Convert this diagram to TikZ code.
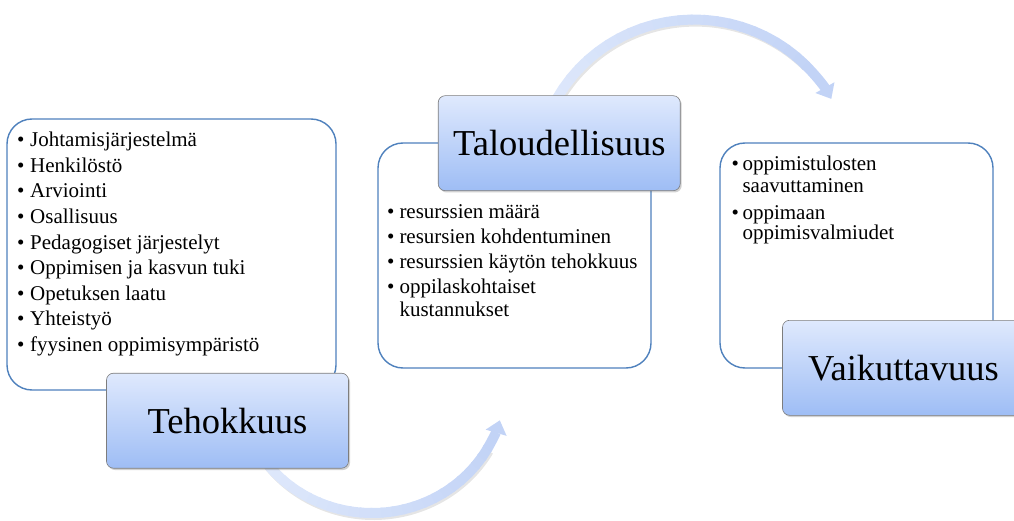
\documentclass[tikz,border=0pt]{standalone}
\usepackage{fontspec}
\setmainfont{Liberation Serif}
\usetikzlibrary{arrows.meta,shadows,calc}
\definecolor{boxblue}{RGB}{79,129,189}
\definecolor{ttop}{RGB}{223,233,253}
\definecolor{tbot}{RGB}{158,189,245}
\definecolor{tborder}{RGB}{125,125,125}
\definecolor{arrA}{RGB}{222,232,251}
\definecolor{arrB}{RGB}{194,211,246}
\begin{document}
\begin{tikzpicture}[x=1pt,y=1pt,
  wbox/.style={draw=boxblue, line width=1.4pt, rounded corners=25pt, fill=white, inner sep=0},
  tbox/.style={draw=tborder, line width=0.6pt, rounded corners=7pt, top color=ttop, bottom color=tbot,
    minimum width=242, minimum height=95, inner sep=0, font=\fontsize{36.5}{40}\selectfont,
    drop shadow={shadow xshift=1.5pt, shadow yshift=-1.8pt, opacity=0.3, fill=black!60}},
  item/.style={anchor=base west, inner sep=0, font=\fontsize{21}{25}\selectfont},
  arrshadow/.style={line width=10pt, draw=black, opacity=0.10},
]
\path[use as bounding box] (0,0) rectangle (1014,520);
\clip (0,0) rectangle (1014,520);

% ---- curved arrows ----
\coordinate (c1) at (372,135);
\coordinate (c2) at (694,346.4);
% bottom arrow (Tehokkuus -> Taloudellisuus)
\draw[arrshadow] ($(c1)+(218:133 and 128)+(1.5,-2)$) arc[start angle=218, end angle=330, x radius=133, y radius=128];
\foreach \i in {0,...,23} {
  \pgfmathsetmacro\a{218+112*\i/24}
  \pgfmathsetmacro\b{218+112*(\i+1)/24+0.8}
  \pgfmathtruncatemacro\m{100*\i/24}
  \draw[line width=10pt, draw=arrB!\m!arrA] ($(c1)+(\a:133 and 128)$) arc[start angle=\a, end angle=\b, x radius=133, y radius=128];
}
\draw[line width=10pt, draw=arrB, -{Triangle[width=21pt,length=13pt]}] ($(c1)+(330:133 and 128)$) coordinate (a1s)
  arc[start angle=330, end angle=344, x radius=133, y radius=128] coordinate (a1e);
% top arrow (Taloudellisuus -> Vaikuttavuus)
\draw[arrshadow] ($(c2)+(156:157 and 154)+(1.5,-2)$) arc[start angle=156, end angle=45, x radius=157, y radius=154];
\foreach \i in {0,...,23} {
  \pgfmathsetmacro\a{156-111*\i/24}
  \pgfmathsetmacro\b{156-111*(\i+1)/24-0.8}
  \pgfmathtruncatemacro\m{100*\i/24}
  \draw[line width=10pt, draw=arrB!\m!arrA] ($(c2)+(\a:157 and 154)$) arc[start angle=\a, end angle=\b, x radius=157, y radius=154];
}
\draw[line width=10pt, draw=arrB, -{Triangle[width=21pt,length=13pt]}] ($(c2)+(45:157 and 154)$) coordinate (a2s)
  arc[start angle=45, end angle=29, x radius=157, y radius=154] coordinate (a2e);

% ---- white content boxes ----
\node[wbox, minimum width=329, minimum height=271] (b1) at (171.5,265.5) {};
\node[wbox, minimum width=273, minimum height=225] (b2) at (514.5,264.5) {};
\node[wbox, minimum width=273, minimum height=225] (b3) at (856.5,264.5) {};

% ---- title boxes ----
\node[tbox] (t1) at (227.5,99.3) {Tehokkuus};
\node[tbox] (t2) at (559.2,376.8) {Taloudellisuus};
\node[tbox] (t3) at (903.5,152.2) {Vaikuttavuus};

% ---- box 1 items ----
\foreach \t [count=\i from 0] in {Johtamisjärjestelmä, Henkilöstö, Arviointi, Osallisuus,
  Pedagogiset järjestelyt, Oppimisen ja kasvun tuki, Opetuksen laatu, Yhteistyö,
  fyysinen oppimisympäristö} {
  \pgfmathsetmacro\yy{373.3-25.6*\i}
  \node[item] (ba\i) at (16.8,\yy) {•};
  \node[item] (ta\i) at (30,\yy) {\t};
}

% ---- box 2 items ----
\node[item] (bb0) at (387,301.7) {•};
\node[item] (tb0) at (399.3,301.7) {resurssien määrä};
\node[item] (bb1) at (387,276.7) {•};
\node[item] (tb1) at (399.3,276.7) {resursien kohdentuminen};
\node[item] (bb2) at (387,251.7) {•};
\node[item] (tb2) at (399.3,251.7) {resurssien käytön tehokkuus};
\node[item] (bb3) at (387,226) {•};
\node[item] (tb3) at (399.3,226) {oppilaskohtaiset};
\node[item] (tb4) at (399.3,203.3) {kustannukset};

% ---- box 3 items ----
\node[item] (bc0) at (731.3,349) {•};
\node[item] (tc0) at (742.3,349) {oppimistulosten};
\node[item] (tc1) at (742.3,327.3) {saavuttaminen};
\node[item] (bc2) at (731.3,300.7) {•};
\node[item] (tc2) at (742.3,300.7) {oppimaan};
\node[item] (tc3) at (742.3,280) {oppimisvalmiudet};
\end{tikzpicture}
\end{document}
